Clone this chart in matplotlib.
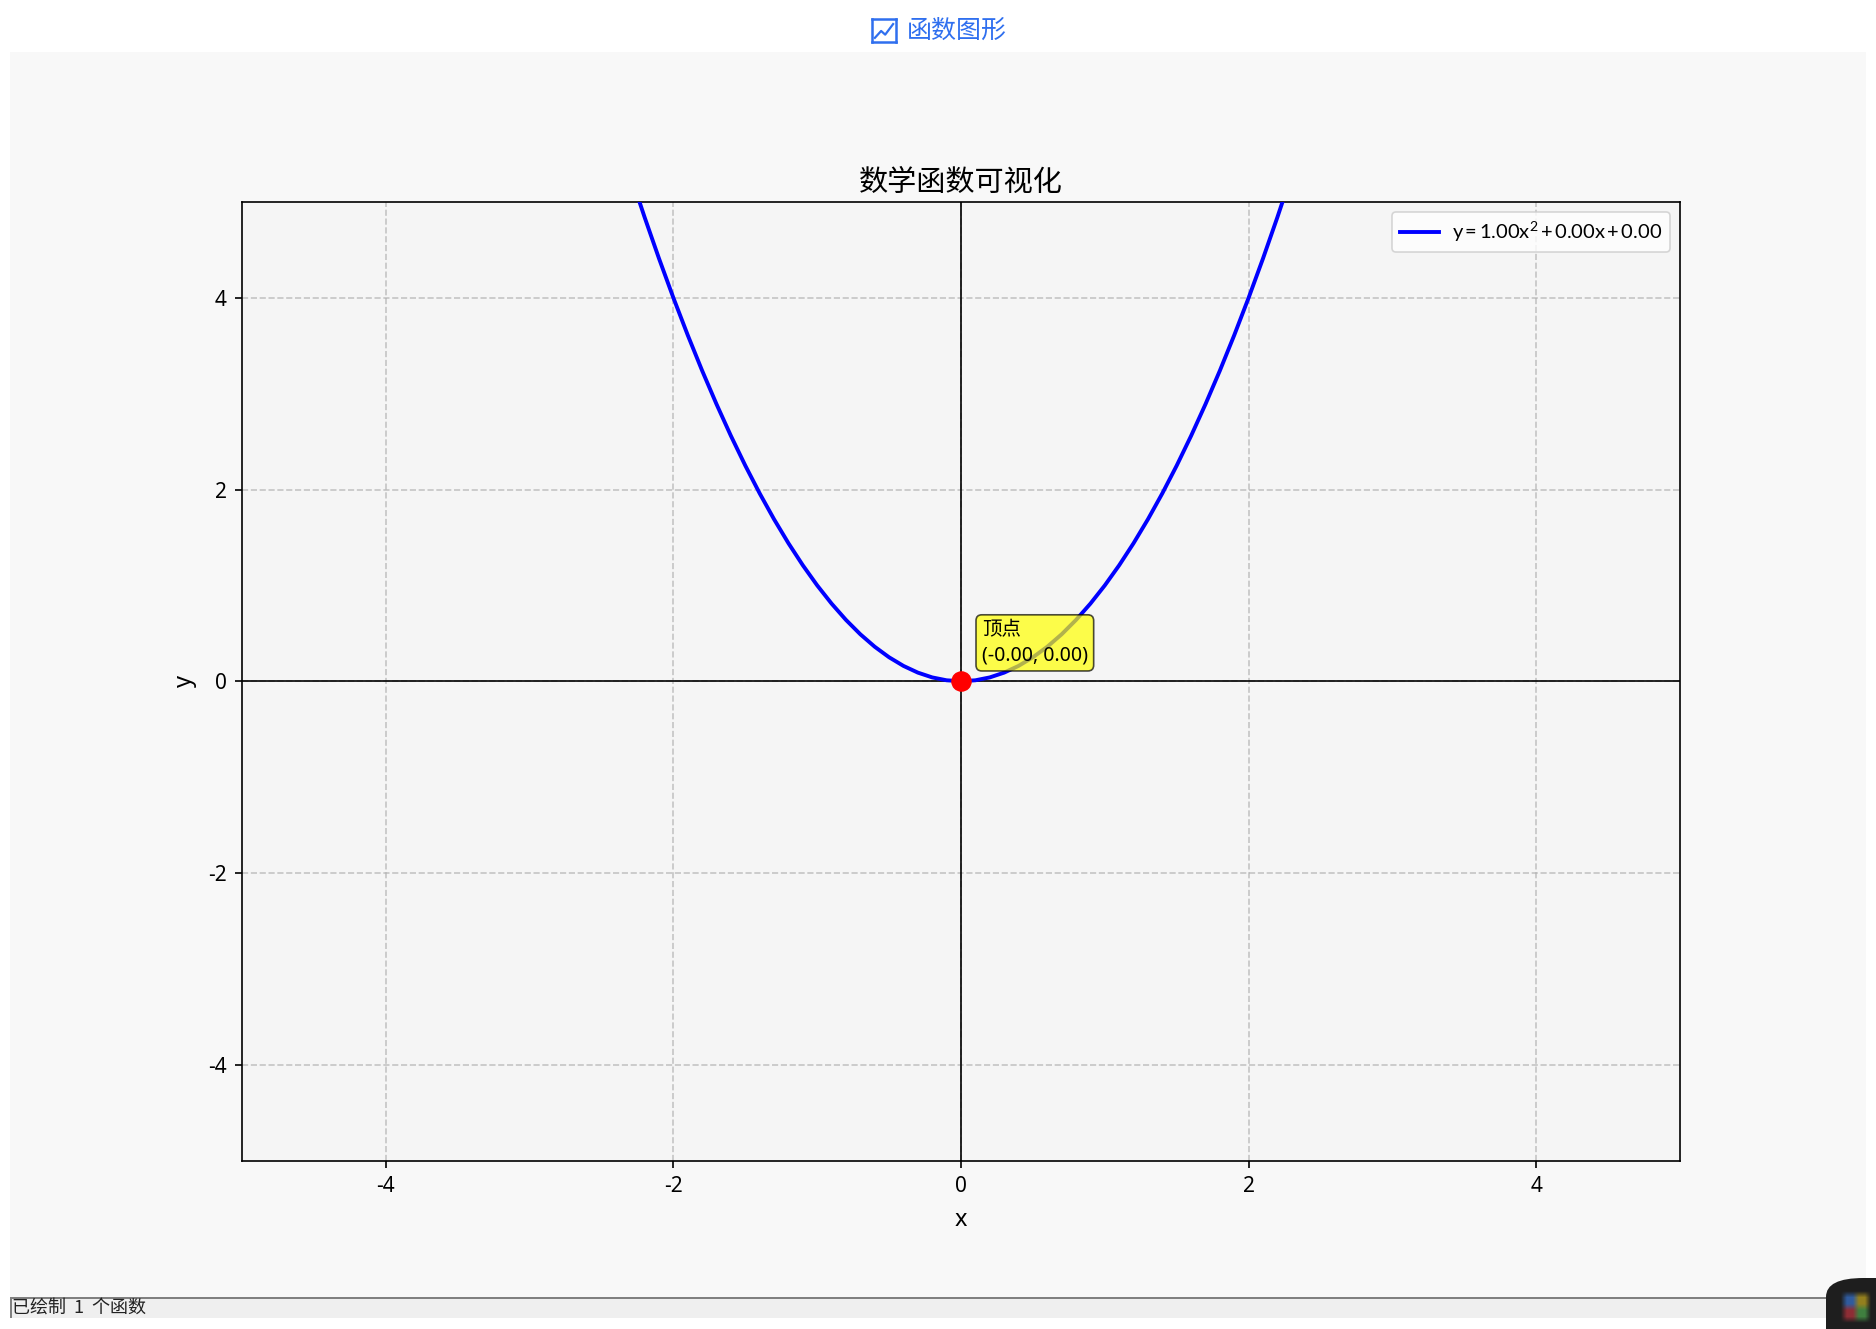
import matplotlib
matplotlib.use("Agg")
import matplotlib.pyplot as plt
from matplotlib.patches import Rectangle, FancyBboxPatch

plt.rcParams['font.family'] = ['Noto Sans', 'Noto Sans CJK SC', 'DejaVu Sans']
plt.rcParams['axes.unicode_minus'] = False
plt.rcParams['mathtext.default'] = 'regular'

W, H = 1876, 1329

# datos
curve_x = [-2.4, -2.3, -2.2, -2.1, -2.0, -1.9, -1.8, -1.7, -1.6, -1.5, -1.4, -1.3,
           -1.2, -1.1, -1.0, -0.9, -0.8, -0.7, -0.6, -0.5, -0.4, -0.3, -0.2, -0.1,
           0.0, 0.1, 0.2, 0.3, 0.4, 0.5, 0.6, 0.7, 0.8, 0.9, 1.0, 1.1, 1.2, 1.3,
           1.4, 1.5, 1.6, 1.7, 1.8, 1.9, 2.0, 2.1, 2.2, 2.3, 2.4]
curve_y = [5.76, 5.29, 4.84, 4.41, 4.0, 3.61, 3.24, 2.89, 2.56, 2.25, 1.96, 1.69,
           1.44, 1.21, 1.0, 0.81, 0.64, 0.49, 0.36, 0.25, 0.16, 0.09, 0.04, 0.01,
           0.0, 0.01, 0.04, 0.09, 0.16, 0.25, 0.36, 0.49, 0.64, 0.81, 1.0, 1.21, 1.44, 1.69,
           1.96, 2.25, 2.56, 2.89, 3.24, 3.61, 4.0, 4.41, 4.84, 5.29, 5.76]
vertex_x = [0.0]
vertex_y = [0.0]
ticks = [-4, -2, 0, 2, 4]
icon_x = [0.12, 0.38, 0.55, 0.88]
icon_y = [0.18, 0.48, 0.32, 0.78]

window_title = "函数图形"
chart_title = "数学函数可视化"
legend_label = "y\u2009=\u20091.00x$^2$\u2009+\u20090.00x\u2009+\u20090.00"
vertex_label = "顶点\n(-0.00, 0.00)"
status_text = "已绘制  1  个函数"

D = (0.12, 0.12, 0.12)
B = (0.19, 0.36, 0.62)
Y = (0.58, 0.50, 0.12)
R = (0.56, 0.18, 0.21)
G = (0.25, 0.50, 0.25)
corner_colors = [[D, D, D, D, D, D],
                 [D, B, B, Y, Y, D],
                 [D, B, B, Y, Y, D],
                 [D, R, R, G, G, D],
                 [D, R, R, G, G, D],
                 [D, D, D, D, D, D]]


def px_axes(fig, x0, y0, x1, y1):
    # rectangulo en pixeles con origen arriba a la izquierda
    return fig.add_axes([x0 / W, 1 - y1 / H, (x1 - x0) / W, (y1 - y0) / H])


def px_rect(fig, x0, y0, x1, y1, **kw):
    fig.add_artist(Rectangle((x0 / W, 1 - y1 / H), (x1 - x0) / W, (y1 - y0) / H,
                             transform=fig.transFigure, **kw))


def main():
    fig = plt.figure(figsize=(W / 100, H / 100), dpi=100, facecolor="white")

    # fondo de la ventana y barra de estado
    px_rect(fig, 10, 52, 1866, 1298, fc="#f8f8f8", ec="none", zorder=-5)
    px_rect(fig, 10, 1298, 1866, 1318, fc="#efefef", ec="none", zorder=-5)
    px_rect(fig, 10, 1297, 1866, 1299, fc="#808080", ec="none", zorder=-4)
    px_rect(fig, 10, 1298, 11.5, 1318, fc="#808080", ec="none", zorder=-4)
    fig.text(12 / W, 1 - 1308 / H, status_text, fontsize=13, color="#222222",
             family=['Noto Sans CJK SC', 'DejaVu Sans'], va="center", ha="left")

    # cabecera
    fig.text(957 / W, 1 - 31 / H, window_title, fontsize=18, color="#2f6fef",
             family=['Noto Sans CJK SC', 'DejaVu Sans'], va="center", ha="center")
    icon = px_axes(fig, 872, 19, 896, 42)
    icon.plot(icon_x, icon_y, color="#2f6fef", lw=1.6)
    icon.set_xlim(0, 1)
    icon.set_ylim(0, 1)
    icon.set_xticks([])
    icon.set_yticks([])
    icon.patch.set_alpha(0)
    for s in icon.spines.values():
        s.set_color("#2f6fef")
        s.set_linewidth(1.8)

    # grafico principal
    ax = px_axes(fig, 242, 202, 1680, 1160.5)
    ax.set_facecolor("#f5f5f5")
    ax.plot(curve_x, curve_y, color="blue", lw=2.8, label=legend_label, zorder=3)
    ax.scatter(vertex_x, vertex_y, s=190, color="red", zorder=5)
    ax.axhline(0, color="black", lw=1.2, zorder=2)
    ax.axvline(0, color="black", lw=1.2, zorder=2)
    ax.grid(True, linestyle="--", color="#b0b0b0", alpha=0.7, lw=1.2)
    ax.set_axisbelow(True)
    ax.set_xlim(-5, 5)
    ax.set_ylim(-5, 5)
    ax.set_xticks(ticks)
    ax.set_yticks(ticks)
    ax.tick_params(labelsize=15, length=5, width=1.2, pad=6)
    for s in ax.spines.values():
        s.set_linewidth(1.2)
    ax.set_title(chart_title, fontsize=21, pad=8)
    ax.set_xlabel("x", fontsize=17, labelpad=8)
    ax.set_ylabel("y", fontsize=17, labelpad=8)

    ax.annotate(vertex_label, xy=(vertex_x[0], vertex_y[0]), xytext=(15, 11.6),
                textcoords="offset points", fontsize=14, linespacing=1.3,
                bbox=dict(boxstyle="round,pad=0.3", fc="yellow", ec="black", alpha=0.7, lw=1.2),
                zorder=6, va="bottom", ha="left")

    leg = ax.legend(loc="upper right", borderaxespad=0.5, handlelength=1.9, handletextpad=0.65,
                    prop={'family': ['Lato', 'Noto Sans', 'DejaVu Sans'], 'size': 14.5},
                    framealpha=0.8, edgecolor="#cccccc")
    leg.get_frame().set_linewidth(1.2)

    # esquina oscura abajo a la derecha
    fig.add_artist(FancyBboxPatch((1826 / W, -30 / H), 90 / W, 81 / H, transform=fig.transFigure,
                                  boxstyle="round,pad=0,rounding_size=0.02", fc="#1e1e1e", ec="none",
                                  mutation_aspect=H / W, zorder=8))
    corner = px_axes(fig, 1838, 1288, 1874, 1326)
    corner.imshow(corner_colors, interpolation="bilinear", aspect="auto")
    corner.axis("off")
    corner.set_zorder(9)

    fig.savefig("out.png", dpi=100)


if __name__ == "__main__":
    main()
